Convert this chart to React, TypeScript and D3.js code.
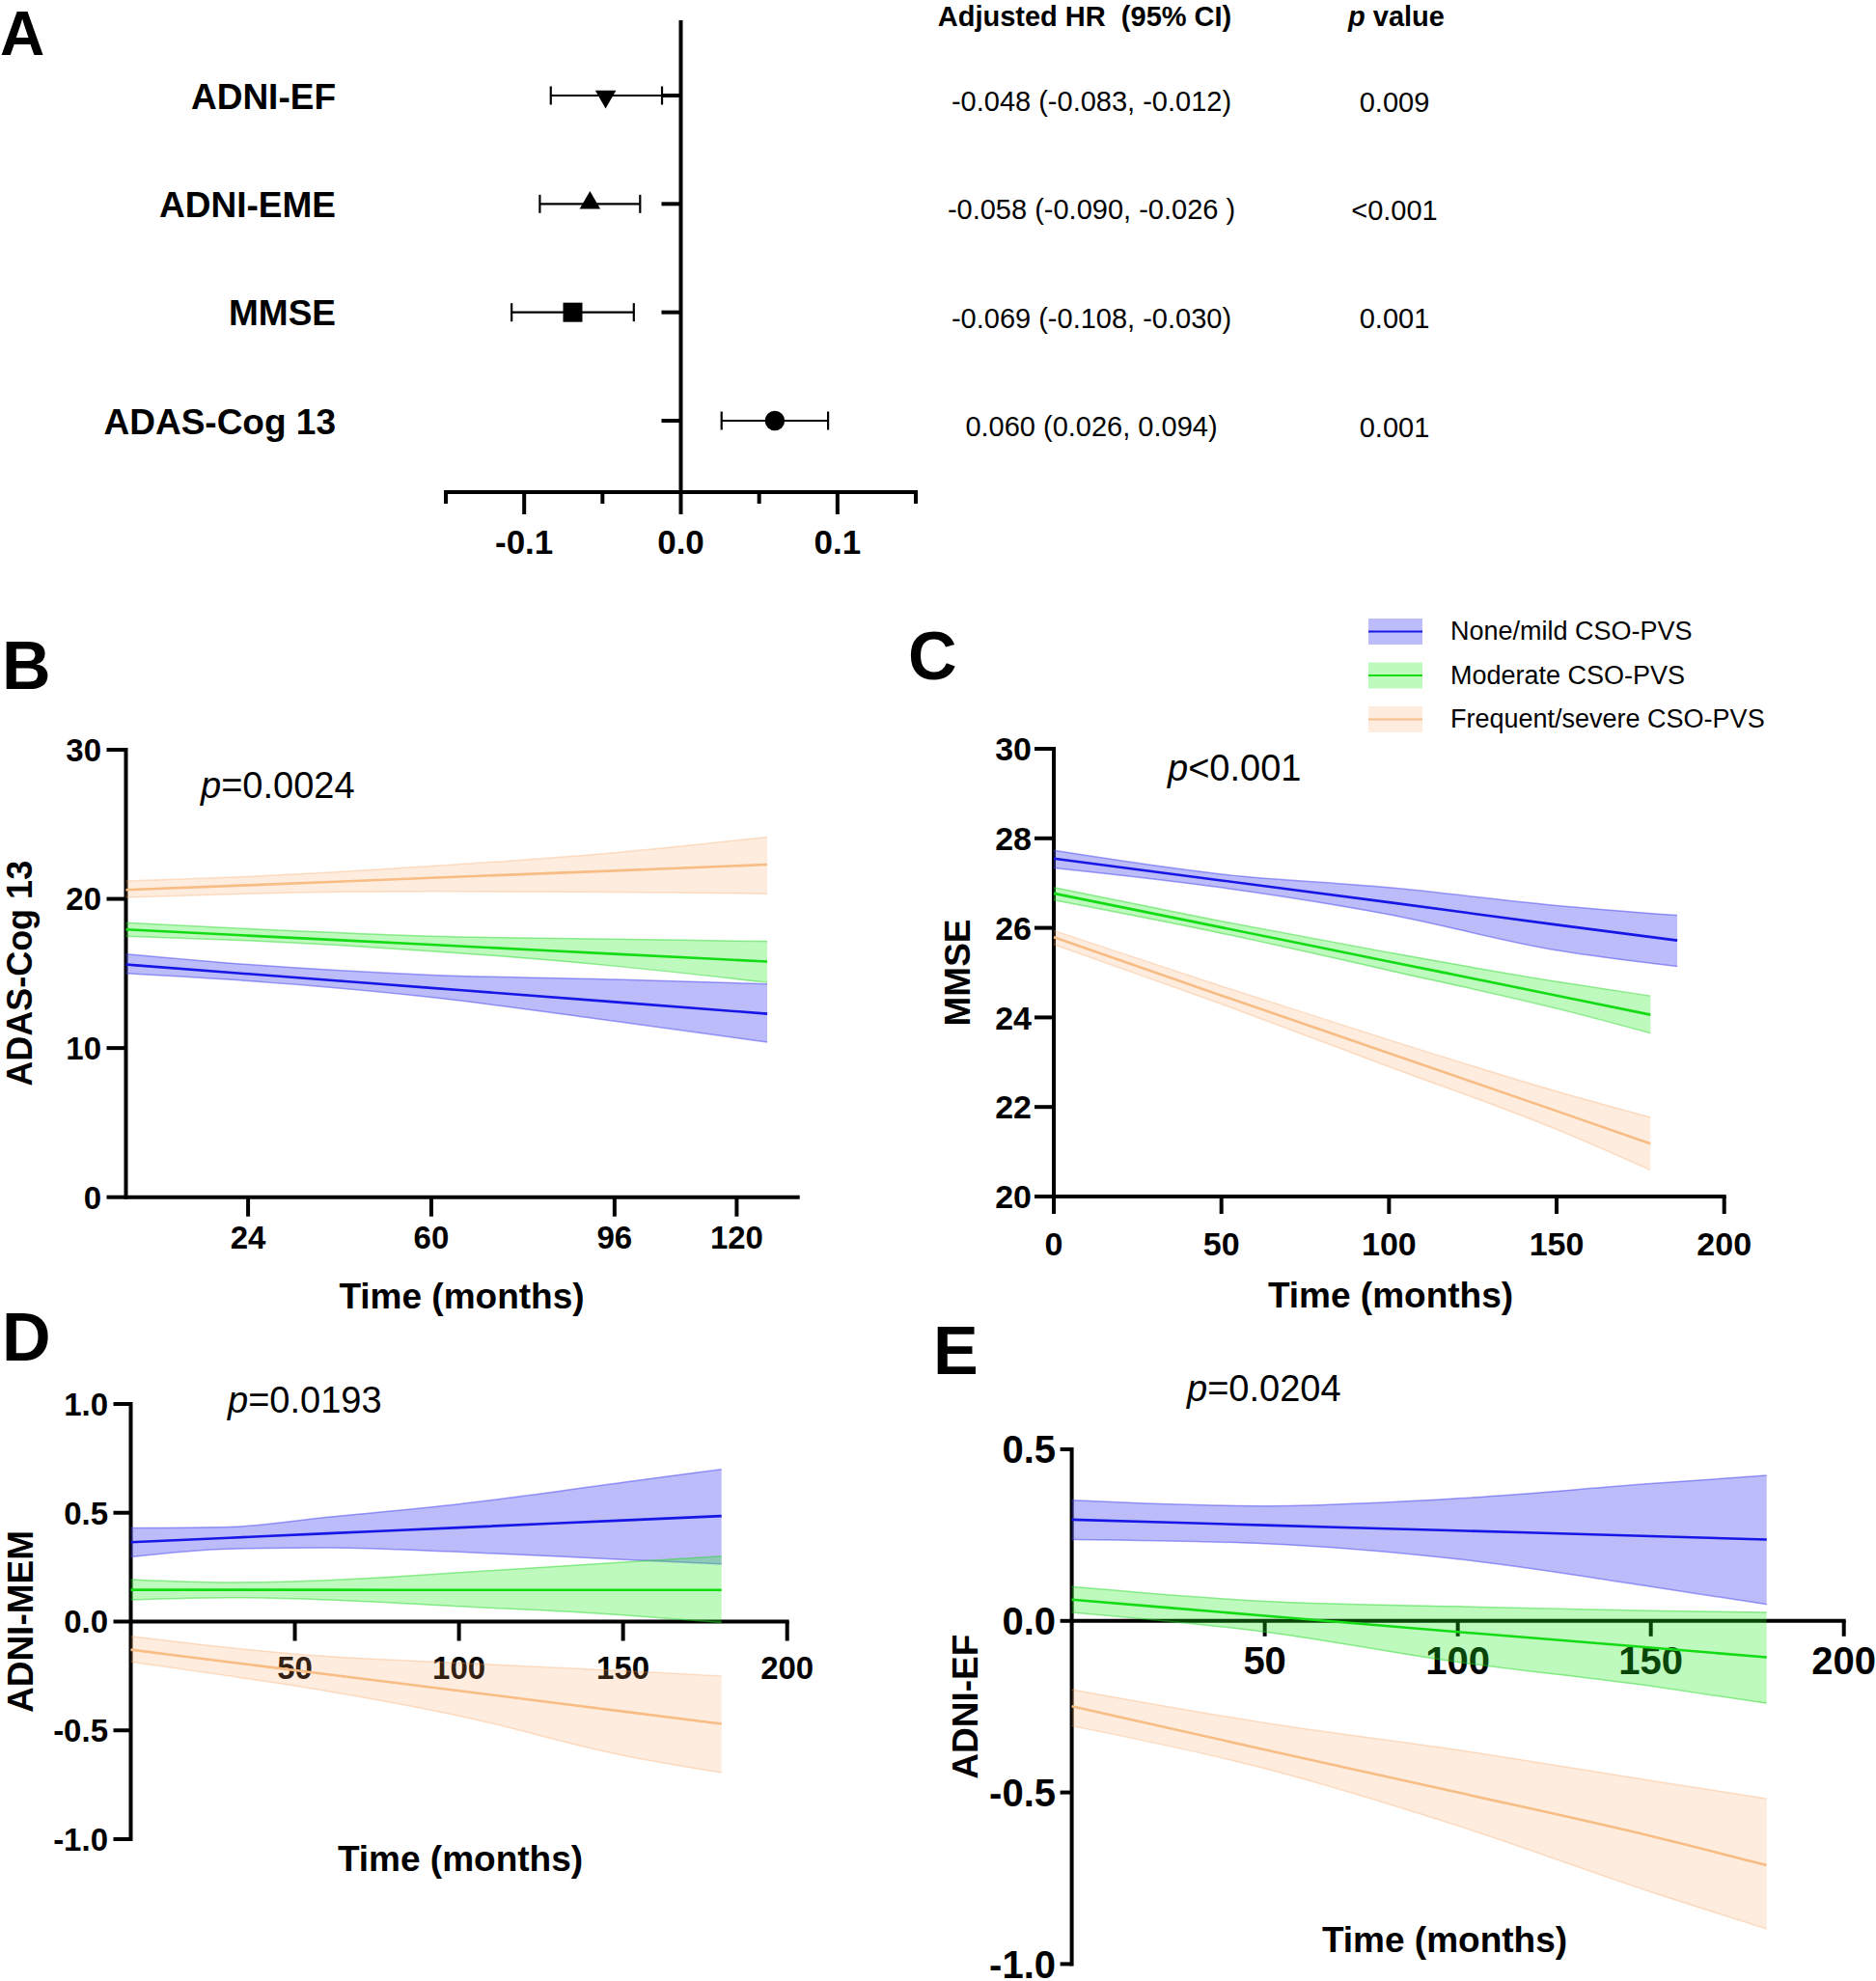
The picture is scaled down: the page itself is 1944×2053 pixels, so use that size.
import React from 'react';
import * as d3 from 'd3';

const FONT = '"Liberation Sans", Arial, Helvetica, sans-serif';

// ---------- Panel A (forest plot) data ----------
const outcomes = ['ADNI-EF', 'ADNI-EME', 'MMSE', 'ADAS-Cog 13'];
const estimates = [-0.048, -0.058, -0.069, 0.06];
const ciLower = [-0.083, -0.09, -0.108, 0.026];
const ciUpper = [-0.012, -0.026, -0.03, 0.094];
const markerShapes = ['triangleDown', 'triangleUp', 'square', 'circle'];
const hrTexts = [
  '-0.048 (-0.083, -0.012)',
  '-0.058 (-0.090, -0.026 )',
  '-0.069 (-0.108, -0.030)',
  '0.060 (0.026, 0.094)',
];
const pTexts = ['0.009', '<0.001', '0.001', '0.001'];
const forestTicks = [-0.15, -0.1, -0.05, 0, 0.05, 0.1, 0.15];
const forestLabeledTicks = [-0.1, 0, 0.1];

// ---------- Groups ----------
const groups = ['None/mild CSO-PVS', 'Moderate CSO-PVS', 'Frequent/severe CSO-PVS'];
const lineColors = ['#1616E6', '#14DC14', '#F7BD84'];
const bandFills = ['rgba(70,70,240,0.36)', 'rgba(30,235,30,0.29)', 'rgba(250,160,90,0.2)'];
const bandEdges = ['rgba(70,70,240,0.5)', 'rgba(30,215,30,0.45)', 'rgba(245,160,90,0.3)'];

// ---------- Panel B: ADAS-Cog 13 ----------
const adasTime = [
  [0, 24, 60, 96, 126],
  [0, 24, 60, 96, 126],
  [0, 24, 60, 96, 126],
];
const adasMean = [
  [15.6, 14.97, 14.03, 13.09, 12.3],
  [17.95, 17.54, 16.93, 16.31, 15.8],
  [20.6, 20.92, 21.41, 21.89, 22.3],
];
const adasLow = [
  [15.0, 14.5, 13.4, 11.8, 10.4],
  [17.5, 17.2, 16.5, 15.5, 14.4],
  [20.1, 20.35, 20.5, 20.45, 20.35],
];
const adasHigh = [
  [16.3, 15.6, 14.9, 14.6, 14.3],
  [18.4, 18.0, 17.5, 17.3, 17.15],
  [21.2, 21.5, 22.2, 23.1, 24.15],
];

// ---------- Panel C: MMSE ----------
const mmseTime = [
  [0, 50, 100, 150, 186],
  [0, 50, 100, 150, 178],
  [0, 50, 100, 150, 178],
];
const mmseMean = [
  [27.55, 27.06, 26.57, 26.07, 25.72],
  [26.77, 26.01, 25.25, 24.49, 24.06],
  [25.79, 24.49, 23.2, 21.91, 21.18],
];
const mmseLow = [
  [27.34, 26.9, 26.3, 25.5, 25.14],
  [26.62, 25.88, 25.05, 24.2, 23.65],
  [25.63, 24.3, 22.9, 21.5, 20.59],
];
const mmseHigh = [
  [27.73, 27.2, 26.9, 26.5, 26.28],
  [26.9, 26.15, 25.45, 24.8, 24.48],
  [25.94, 24.7, 23.5, 22.35, 21.77],
];

// ---------- Panel D: ADNI-MEM ----------
const memTime = [
  [0, 30, 60, 100, 150, 180],
  [0, 30, 60, 100, 150, 180],
  [0, 30, 60, 100, 150, 180],
];
const memMean = [
  [0.365, 0.385, 0.405, 0.432, 0.465, 0.485],
  [0.146, 0.146, 0.146, 0.145, 0.145, 0.145],
  [-0.129, -0.186, -0.243, -0.318, -0.413, -0.47],
];
const memLow = [
  [0.297, 0.334, 0.339, 0.32, 0.285, 0.265],
  [0.1, 0.11, 0.1, 0.07, 0.03, -0.005],
  [-0.185, -0.25, -0.32, -0.433, -0.615, -0.694],
];
const memHigh = [
  [0.43, 0.435, 0.48, 0.54, 0.64, 0.7],
  [0.193, 0.18, 0.19, 0.225, 0.273, 0.3],
  [-0.068, -0.12, -0.16, -0.19, -0.226, -0.25],
];

// ---------- Panel E: ADNI-EF ----------
const efTime = [
  [0, 50, 100, 150, 180],
  [0, 50, 100, 150, 180],
  [0, 50, 100, 150, 180],
];
const efMean = [
  [0.295, 0.279, 0.263, 0.247, 0.237],
  [0.062, 0.015, -0.032, -0.078, -0.106],
  [-0.249, -0.375, -0.5, -0.627, -0.712],
];
const efLow = [
  [0.237, 0.225, 0.18, 0.1, 0.048],
  [0.025, -0.032, -0.12, -0.19, -0.24],
  [-0.306, -0.43, -0.597, -0.79, -0.898],
];
const efHigh = [
  [0.352, 0.335, 0.357, 0.4, 0.424],
  [0.1, 0.057, 0.042, 0.03, 0.025],
  [-0.2, -0.297, -0.376, -0.465, -0.518],
];

// ---------- Tick values ----------
const adasXTicks = [24, 60, 96, 120];
const adasYTicks = [0, 10, 20, 30];
const mmseXTicks = [0, 50, 100, 150, 200];
const mmseYTicks = [20, 22, 24, 26, 28, 30];
const memXTicks = [50, 100, 150, 200];
const memYTicks = [-1, -0.5, 0, 0.5, 1];
const efXTicks = [50, 100, 150, 200];
const efYTicks = [-1, -0.5, 0, 0.5];

const hyphen = (s: string) => s.replace('\u2212', '-');
const fmt1 = (v: number) => hyphen(d3.format('.1f')(v));
const fmt0 = (v: number) => String(v);

type PanelCfg = {
  letter: string;
  letterX: number;
  letterY: number;
  letterSize: number;
  xDomain: [number, number];
  xRange: [number, number];
  yDomain: [number, number];
  yRange: [number, number];
  xTicks: number[];
  yTicks: number[];
  xAxisAt: number;
  yFmt: (v: number) => string;
  tickFont: number;
  yTickLen: number;
  xTickLen: number;
  yLabelRight: number;
  xLabelOffset: number;
  yTitle: string;
  yTitleX: number;
  yTitleSize: number;
  xTitleX: number;
  xTitleY: number;
  pRel: string;
  pX: number;
  pY: number;
  times: number[][];
  means: number[][];
  lows: number[][];
  highs: number[][];
};

function TrendPanel({ c }: { c: PanelCfg }) {
  const x = d3.scaleLinear().domain(c.xDomain).range(c.xRange);
  const y = d3.scaleLinear().domain(c.yDomain).range(c.yRange);
  const axisY = y(c.xAxisAt);
  const x0 = c.xRange[0];
  const yTop = y(c.yDomain[1]);
  const yBot = y(c.yDomain[0]);
  const yMid = (yTop + yBot) / 2;

  return (
    <g>
      <text x={c.letterX} y={c.letterY} fontSize={c.letterSize} fontWeight="bold">
        {c.letter}
      </text>
      {/* y axis */}
      <line x1={x0} x2={x0} y1={yTop - 2} y2={yBot + 2} stroke="#000" strokeWidth={4} />
      {c.yTicks.map((v) => (
        <g key={'y' + v}>
          <line x1={x0 - c.yTickLen} x2={x0} y1={y(v)} y2={y(v)} stroke="#000" strokeWidth={4} />
          <text
            x={c.yLabelRight}
            y={y(v) + c.tickFont * 0.36}
            fontSize={c.tickFont}
            fontWeight="bold"
            textAnchor="end"
          >
            {c.yFmt(v)}
          </text>
        </g>
      ))}
      {/* x axis */}
      <line x1={x0} x2={c.xRange[1] + 2} y1={axisY} y2={axisY} stroke="#000" strokeWidth={4} />
      {c.xTicks.map((v) => (
        <g key={'x' + v}>
          <line x1={x(v)} x2={x(v)} y1={axisY} y2={axisY + c.xTickLen} stroke="#000" strokeWidth={4} />
          <text
            x={x(v)}
            y={axisY + c.xLabelOffset}
            fontSize={c.tickFont}
            fontWeight="bold"
            textAnchor="middle"
          >
            {String(v)}
          </text>
        </g>
      ))}
      {/* titles */}
      <text
        transform={`translate(${c.yTitleX},${yMid}) rotate(-90)`}
        fontSize={c.yTitleSize}
        fontWeight="bold"
        textAnchor="middle"
      >
        {c.yTitle}
      </text>
      <text x={c.xTitleX} y={c.xTitleY} fontSize={37} fontWeight="bold" textAnchor="middle">
        Time (months)
      </text>
      <text x={c.pX} y={c.pY} fontSize={38}>
        <tspan fontStyle="italic">p</tspan>
        {c.pRel}
      </text>
      {/* confidence bands */}
      {c.times.map((ts, g) => {
        const idx = ts.map((_, i) => i);
        const area = d3
          .area<number>()
          .x((i) => x(ts[i]))
          .y0((i) => y(c.lows[g][i]))
          .y1((i) => y(c.highs[g][i]))
          .curve(d3.curveMonotoneX);
        const lo = d3
          .line<number>()
          .x((i) => x(ts[i]))
          .y((i) => y(c.lows[g][i]))
          .curve(d3.curveMonotoneX);
        const hi = d3
          .line<number>()
          .x((i) => x(ts[i]))
          .y((i) => y(c.highs[g][i]))
          .curve(d3.curveMonotoneX);
        return (
          <g key={'band' + g}>
            <path d={area(idx) || ''} fill={bandFills[g]} stroke="none" />
            <path d={lo(idx) || ''} fill="none" stroke={bandEdges[g]} strokeWidth={1.5} />
            <path d={hi(idx) || ''} fill="none" stroke={bandEdges[g]} strokeWidth={1.5} />
          </g>
        );
      })}
      {/* fitted lines */}
      {c.times.map((ts, g) => {
        const idx = ts.map((_, i) => i);
        const ln = d3
          .line<number>()
          .x((i) => x(ts[i]))
          .y((i) => y(c.means[g][i]))
          .curve(d3.curveMonotoneX);
        return <path key={'mean' + g} d={ln(idx) || ''} fill="none" stroke={lineColors[g]} strokeWidth={2.6} />;
      })}
    </g>
  );
}

function ForestPanel() {
  const fx = d3.scaleLinear().domain([-0.15, 0.15]).range([462, 949]);
  const fy = d3.scalePoint<string>().domain(outcomes).range([99, 436]);
  const zeroX = fx(0);
  const axisY = 510;
  const symbolPath = (shape: string) => {
    if (shape === 'square') return d3.symbol().type(d3.symbolSquare).size(400)() || '';
    if (shape === 'circle') return d3.symbol().type(d3.symbolCircle).size(330)() || '';
    return d3.symbol().type(d3.symbolTriangle).size(200)() || '';
  };
  return (
    <g>
      <text x={0} y={57} fontSize={64} fontWeight="bold">
        A
      </text>
      {/* axes */}
      <line x1={zeroX} x2={zeroX} y1={21} y2={axisY} stroke="#000" strokeWidth={4} />
      <line x1={fx(-0.15) - 2} x2={fx(0.15) + 2} y1={axisY} y2={axisY} stroke="#000" strokeWidth={4} />
      {forestTicks.map((t) => {
        const major = forestLabeledTicks.some((m) => Math.abs(m - t) < 1e-9);
        return (
          <line
            key={'ft' + t}
            x1={fx(t)}
            x2={fx(t)}
            y1={axisY}
            y2={axisY + (major ? 23 : 12)}
            stroke="#000"
            strokeWidth={4}
          />
        );
      })}
      {forestLabeledTicks.map((t) => (
        <text key={'fl' + t} x={fx(t)} y={574} fontSize={35} fontWeight="bold" textAnchor="middle">
          {fmt1(t)}
        </text>
      ))}
      {outcomes.map((o, i) => {
        const yy = fy(o) as number;
        const shape = markerShapes[i];
        const rot = shape === 'triangleDown' ? 180 : 0;
        const dy = shape === 'triangleDown' ? 1 : shape === 'triangleUp' ? -1 : 0;
        return (
          <g key={o}>
            <line x1={zeroX - 20} x2={zeroX} y1={yy} y2={yy} stroke="#000" strokeWidth={4} />
            <text x={348} y={yy + 13.5} fontSize={37} fontWeight="bold" textAnchor="end">
              {o}
            </text>
            <line x1={fx(ciLower[i])} x2={fx(ciUpper[i])} y1={yy} y2={yy} stroke="#000" strokeWidth={2.2} />
            <line x1={fx(ciLower[i])} x2={fx(ciLower[i])} y1={yy - 9.5} y2={yy + 9.5} stroke="#000" strokeWidth={2.2} />
            <line x1={fx(ciUpper[i])} x2={fx(ciUpper[i])} y1={yy - 9.5} y2={yy + 9.5} stroke="#000" strokeWidth={2.2} />
            <path
              d={symbolPath(shape)}
              transform={`translate(${fx(estimates[i])},${yy + dy}) rotate(${rot})`}
              fill="#000"
            />
            <text x={1131} y={yy + 16} fontSize={29} textAnchor="middle">
              {hrTexts[i]}
            </text>
            <text x={1445} y={yy + 16.5} fontSize={29} textAnchor="middle">
              {pTexts[i]}
            </text>
          </g>
        );
      })}
      <text x={1124} y={27} fontSize={29} fontWeight="bold" textAnchor="middle" xmlSpace="preserve">
        {'Adjusted HR  (95% CI)'}
      </text>
      <text x={1447} y={27} fontSize={29} fontWeight="bold" textAnchor="middle">
        <tspan fontStyle="italic">p</tspan> value
      </text>
    </g>
  );
}

function Legend() {
  const x0 = 1418;
  const w = 56;
  const h = 27;
  const ys = d3.scalePoint<string>().domain(groups).range([641, 732]);
  return (
    <g>
      {groups.map((g, i) => {
        const top = ys(g) as number;
        return (
          <g key={g}>
            <rect x={x0} y={top} width={w} height={h} fill={bandFills[i]} />
            <line x1={x0} x2={x0 + w} y1={top + h / 2} y2={top + h / 2} stroke={lineColors[i]} strokeWidth={2} />
            <text x={1503} y={top + 22} fontSize={27}>
              {g}
            </text>
          </g>
        );
      })}
    </g>
  );
}

const panelB: PanelCfg = {
  letter: 'B', letterX: 2, letterY: 714, letterSize: 70,
  xDomain: [0, 132], xRange: [130.5, 826.7],
  yDomain: [0, 30], yRange: [1240.7, 777],
  xTicks: adasXTicks, yTicks: adasYTicks, xAxisAt: 0,
  yFmt: fmt0, tickFont: 33, yTickLen: 20, xTickLen: 20, yLabelRight: 105, xLabelOffset: 53,
  yTitle: 'ADAS-Cog 13', yTitleX: 33, yTitleSize: 36, xTitleX: 478.5, xTitleY: 1356,
  pRel: '=0.0024', pX: 208, pY: 827,
  times: adasTime, means: adasMean, lows: adasLow, highs: adasHigh,
};

const panelC: PanelCfg = {
  letter: 'C', letterX: 941, letterY: 704, letterSize: 70,
  xDomain: [0, 200], xRange: [1092, 1786.7],
  yDomain: [20, 30], yRange: [1240, 776],
  xTicks: mmseXTicks, yTicks: mmseYTicks, xAxisAt: 20,
  yFmt: fmt0, tickFont: 34, yTickLen: 20, xTickLen: 18, yLabelRight: 1069, xLabelOffset: 61,
  yTitle: 'MMSE', yTitleX: 1005, yTitleSize: 37, xTitleX: 1441, xTitleY: 1355,
  pRel: '<0.001', pX: 1210, pY: 809,
  times: mmseTime, means: mmseMean, lows: mmseLow, highs: mmseHigh,
};

const panelD: PanelCfg = {
  letter: 'D', letterX: 2, letterY: 1410, letterSize: 70,
  xDomain: [0, 200], xRange: [135.5, 815.7],
  yDomain: [-1, 1], yRange: [1906, 1455],
  xTicks: memXTicks, yTicks: memYTicks, xAxisAt: 0,
  yFmt: fmt1, tickFont: 33, yTickLen: 18, xTickLen: 20, yLabelRight: 112, xLabelOffset: 59,
  yTitle: 'ADNI-MEM', yTitleX: 34, yTitleSize: 37, xTitleX: 477, xTitleY: 1939,
  pRel: '=0.0193', pX: 236, pY: 1464,
  times: memTime, means: memMean, lows: memLow, highs: memHigh,
};

const panelE: PanelCfg = {
  letter: 'E', letterX: 967, letterY: 1424, letterSize: 70,
  xDomain: [0, 200], xRange: [1110.6, 1910.7],
  yDomain: [-1, 0.5], yRange: [2035.4, 1502],
  xTicks: efXTicks, yTicks: efYTicks, xAxisAt: 0,
  yFmt: fmt1, tickFont: 40, yTickLen: 12, xTickLen: 16, yLabelRight: 1094, xLabelOffset: 55,
  yTitle: 'ADNI-EF', yTitleX: 1013, yTitleSize: 37, xTitleX: 1497, xTitleY: 2023,
  pRel: '=0.0204', pX: 1230, pY: 1452,
  times: efTime, means: efMean, lows: efLow, highs: efHigh,
};

export default function App() {
  return (
    <svg
      width={1944}
      height={2053}
      style={{ position: 'absolute', left: 0, top: 0, display: 'block' }}
      fontFamily={FONT}
    >
      <rect x={0} y={0} width={1944} height={2053} fill="#fff" />
      <ForestPanel />
      <TrendPanel c={panelB} />
      <TrendPanel c={panelC} />
      <TrendPanel c={panelD} />
      <TrendPanel c={panelE} />
      <Legend />
    </svg>
  );
}
